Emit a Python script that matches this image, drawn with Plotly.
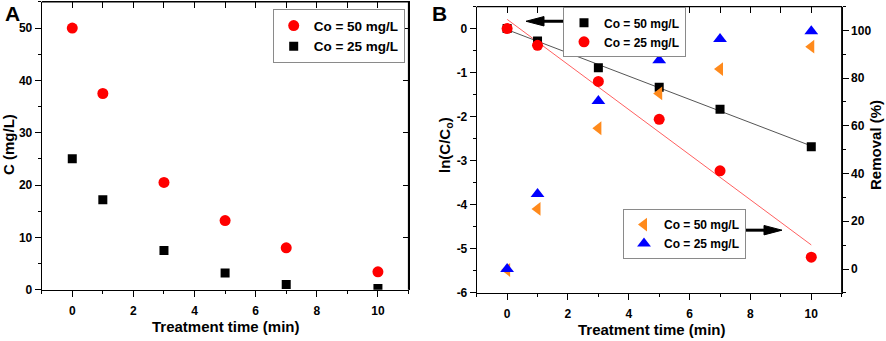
import numpy as np
import plotly.graph_objects as go

W, H = 886, 341

# ---------------- data ----------------
time_min = [0, 1, 3, 5, 7, 10]
conc_50 = [50, 37.5, 20.5, 13.2, 8.0, 3.4]
conc_25 = [25, 17.2, 7.5, 3.2, 1.0, 0.2]
ln_black = [0, -0.28, -0.89, -1.33, -1.83, -2.68]
ln_red = [0, -0.38, -1.20, -2.06, -3.23, -5.19]
removal_50 = [-0.4, 25.2, 59.0, 73.6, 83.8, 93.2]
removal_25 = [0, 31.4, 70.4, 87.5, 96.4, 99.7]
label_50 = "Co = 50 mg/L"
label_25 = "Co = 25 mg/L"
ln_tick_vals = [0, -1, -2, -3, -4, -5, -6]
ln_tick_text = ["0", "-1", "-2", "-3", "-4", "-5", "-6"]

FONT = "Liberation Sans, Arial, sans-serif"

def px(x):
    return x / W

def py(y):
    return 1 - y / H

# fitted lines (linear regression of the ln data)
fit_x = np.array([0, 10])
kb = np.polyfit(time_min, ln_black, 1)
kr = np.polyfit(time_min, ln_red, 1)

fig = go.Figure()

# transparent copies on the frame subplots (top / right axes with inward ticks)
for xa, ya, yy in [("x3", "y4", conc_25), ("x4", "y5", ln_black)]:
    fig.add_trace(go.Scatter(x=time_min, y=yy, mode="markers", showlegend=False,
                             marker=dict(opacity=0), hoverinfo="skip",
                             xaxis=xa, yaxis=ya))

# Panel A
fig.add_trace(go.Scatter(x=time_min, y=conc_50, mode="markers", name=label_50,
                         marker=dict(symbol="circle", size=11, color="#ff0000"),
                         xaxis="x", yaxis="y", legend="legend"))
fig.add_trace(go.Scatter(x=time_min, y=conc_25, mode="markers", name=label_25,
                         marker=dict(symbol="square", size=9, color="#000000"),
                         xaxis="x", yaxis="y", legend="legend"))

# Panel B - fits
fig.add_trace(go.Scatter(x=fit_x, y=np.polyval(kb, fit_x), mode="lines",
                         line=dict(color="#555555", width=1), showlegend=False,
                         hoverinfo="skip", xaxis="x2", yaxis="y2"))
fig.add_trace(go.Scatter(x=fit_x, y=np.polyval(kr, fit_x), mode="lines",
                         line=dict(color="#ff6060", width=1), showlegend=False,
                         hoverinfo="skip", xaxis="x2", yaxis="y2"))
fig.add_trace(go.Scatter(x=time_min, y=ln_black, mode="markers", name=label_50,
                         marker=dict(symbol="square", size=9, color="#000000"),
                         xaxis="x2", yaxis="y2", legend="legend2"))
fig.add_trace(go.Scatter(x=time_min, y=ln_red, mode="markers", name=label_25,
                         marker=dict(symbol="circle", size=11, color="#ff0000"),
                         xaxis="x2", yaxis="y2", legend="legend2"))
fig.add_trace(go.Scatter(x=time_min, y=removal_50, mode="markers", name=label_50,
                         marker=dict(symbol="triangle-left", size=12, color="#ff8a1c"),
                         xaxis="x2", yaxis="y3", legend="legend3"))
fig.add_trace(go.Scatter(x=time_min, y=removal_25, mode="markers", name=label_25,
                         marker=dict(symbol="triangle-up", size=12, color="#0000ff"),
                         xaxis="x2", yaxis="y3", legend="legend3"))

tickfont = dict(family=FONT, size=12, color="black", weight="bold")

def main_axis(**kw):
    d = dict(showgrid=False, zeroline=False, showline=True, linecolor="black",
             linewidth=1, ticks="outside", ticklen=6, tickwidth=1, tickcolor="black",
             tickfont=tickfont)
    d.update(kw)
    return d

def inner_axis(**kw):
    d = dict(showgrid=False, zeroline=False, showline=True, linecolor="black",
             linewidth=1, ticks="inside", ticklen=6, tickwidth=1, tickcolor="black",
             showticklabels=False)
    d.update(kw)
    return d

def minor(kind, dt):
    return dict(ticks=kind, ticklen=3, dtick=dt, tickcolor="black", tickwidth=1)

# plot-area edges in pixels
A_L, A_R, A_T, A_B = 41.7, 408.5, 2.0, 295.7
B_L, B_R, B_T, B_B = 476.7, 841.7, 6.7, 299.0

A_dom_x = [px(A_L), px(A_R)]
A_dom_y = [py(A_B), py(A_T)]
B_dom_x = [px(B_L), px(B_R)]
B_dom_y = [py(B_B), py(B_T)]

legend_common = dict(xanchor="left", yanchor="top", bgcolor="white",
                     bordercolor="#8a8a8a", borderwidth=1, tracegroupgap=0, itemwidth=30)

layout = dict(
    width=W, height=H,
    margin=dict(l=0, r=0, t=0, b=0),
    paper_bgcolor="white", plot_bgcolor="rgba(0,0,0,0)",
    showlegend=True,
    xaxis=main_axis(domain=A_dom_x, anchor="y", range=[-1, 11], dtick=2, tick0=0,
                    ticklabelstandoff=4, minor=minor("outside", 1)),
    yaxis=main_axis(domain=A_dom_y, anchor="x", range=[0, 55], dtick=10, tick0=0,
                    minor=minor("outside", 5)),
    xaxis3=inner_axis(domain=A_dom_x, side="top", anchor="y4", range=[-1, 11], dtick=1,
                      tick0=0),
    yaxis4=inner_axis(domain=A_dom_y, side="right", anchor="x3", range=[0, 55], dtick=10,
                      tick0=0),
    xaxis2=main_axis(domain=B_dom_x, anchor="y2", range=[-1, 11], dtick=2, tick0=0,
                     ticklabelstandoff=4, minor=minor("outside", 1)),
    yaxis2=main_axis(domain=B_dom_y, anchor="x2", range=[-6, 0.5], tickmode="array",
                     tickvals=ln_tick_vals, ticktext=ln_tick_text,
                     minor=minor("outside", 0.5)),
    yaxis3=main_axis(overlaying="y2", side="right", anchor="x2", range=[-10, 110],
                     dtick=20, tick0=0, minor=minor("outside", 10)),
    xaxis4=inner_axis(domain=B_dom_x, side="top", anchor="y5", range=[-1, 11], dtick=1,
                      tick0=0),
    yaxis5=dict(domain=B_dom_y, anchor="x4", range=[-6, 0.5], showline=False,
                showgrid=False, zeroline=False, ticks="", showticklabels=False),
    legend=dict(x=px(272.7), y=py(9.5),
                font=dict(family=FONT, size=13.5, color="black", weight="bold"),
                **legend_common),
    legend2=dict(x=px(563), y=py(7.5),
                 font=dict(family=FONT, size=12, color="black", weight="bold"),
                 **legend_common),
    legend3=dict(x=px(623), y=py(213.5),
                 font=dict(family=FONT, size=12, color="black", weight="bold"),
                 **legend_common),
)
fig.update_layout(**layout)

titlefont = dict(family=FONT, size=15, color="black", weight="bold")
ann = []
ann.append(dict(text="Treatment time (min)", x=px(225.5), y=py(333), xref="paper", yref="paper",
                showarrow=False, font=titlefont, xanchor="center", yanchor="middle"))
ann.append(dict(text="Treatment time (min)", x=px(651.7), y=py(336), xref="paper", yref="paper",
                showarrow=False, font=titlefont, xanchor="center", yanchor="middle"))
ann.append(dict(text="C (mg/L)", x=px(9), y=py(148), xref="paper", yref="paper",
                showarrow=False, font=titlefont, textangle=-90, xanchor="center", yanchor="middle"))
ann.append(dict(text="ln(C/C<sub>o</sub>)", x=px(446), y=py(148), xref="paper", yref="paper",
                showarrow=False, font=titlefont, textangle=-90, xanchor="center", yanchor="middle"))
ann.append(dict(text="Removal (%)", x=px(876), y=py(148), xref="paper", yref="paper",
                showarrow=False, font=titlefont, textangle=-90, xanchor="center", yanchor="middle"))
ann.append(dict(text="A", x=px(12), y=py(14), xref="paper", yref="paper", showarrow=False,
                font=dict(family=FONT, size=21, color="black", weight="bold"),
                xanchor="center", yanchor="middle"))
ann.append(dict(text="B", x=px(439), y=py(14), xref="paper", yref="paper", showarrow=False,
                font=dict(family=FONT, size=21, color="black", weight="bold"),
                xanchor="center", yanchor="middle"))
fig.update_layout(annotations=ann)

# arrows (shaft + head) pointing from legends to their axes
def arrow(x_tail, x_tip, y, head_len=18, head_half=4.8, width=3):
    sgn = 1 if x_tip > x_tail else -1
    x_base = x_tip - sgn * head_len
    return [
        dict(type="line", xref="paper", yref="paper", x0=px(x_tail), x1=px(x_base),
             y0=py(y), y1=py(y), line=dict(color="black", width=width)),
        dict(type="path", xref="paper", yref="paper",
             path=f"M {px(x_tip)},{py(y)} L {px(x_base)},{py(y - head_half)} "
                  f"L {px(x_base)},{py(y + head_half)} Z",
             fillcolor="black", line=dict(color="black", width=1)),
    ]

# plot frames (top and right edges), paper-referenced so they are not clipped
def frame(L, R, T, B):
    return [
        dict(type="line", xref="paper", yref="paper", x0=px(L), x1=px(R), y0=py(T), y1=py(T),
             line=dict(color="black", width=1.2)),
        dict(type="line", xref="paper", yref="paper", x0=px(R), x1=px(R), y0=py(T), y1=py(B),
             line=dict(color="black", width=1.2)),
    ]

fig.update_layout(shapes=frame(A_L, A_R, A_T, A_B) + frame(B_L, B_R, B_T, B_B)
                  + arrow(563, 526, 21.7) + arrow(744, 782, 235))

fig.write_html("out.html", config={"displayModeBar": False},
               post_script="document.body.style.margin='0px';document.body.style.padding='0px';")
